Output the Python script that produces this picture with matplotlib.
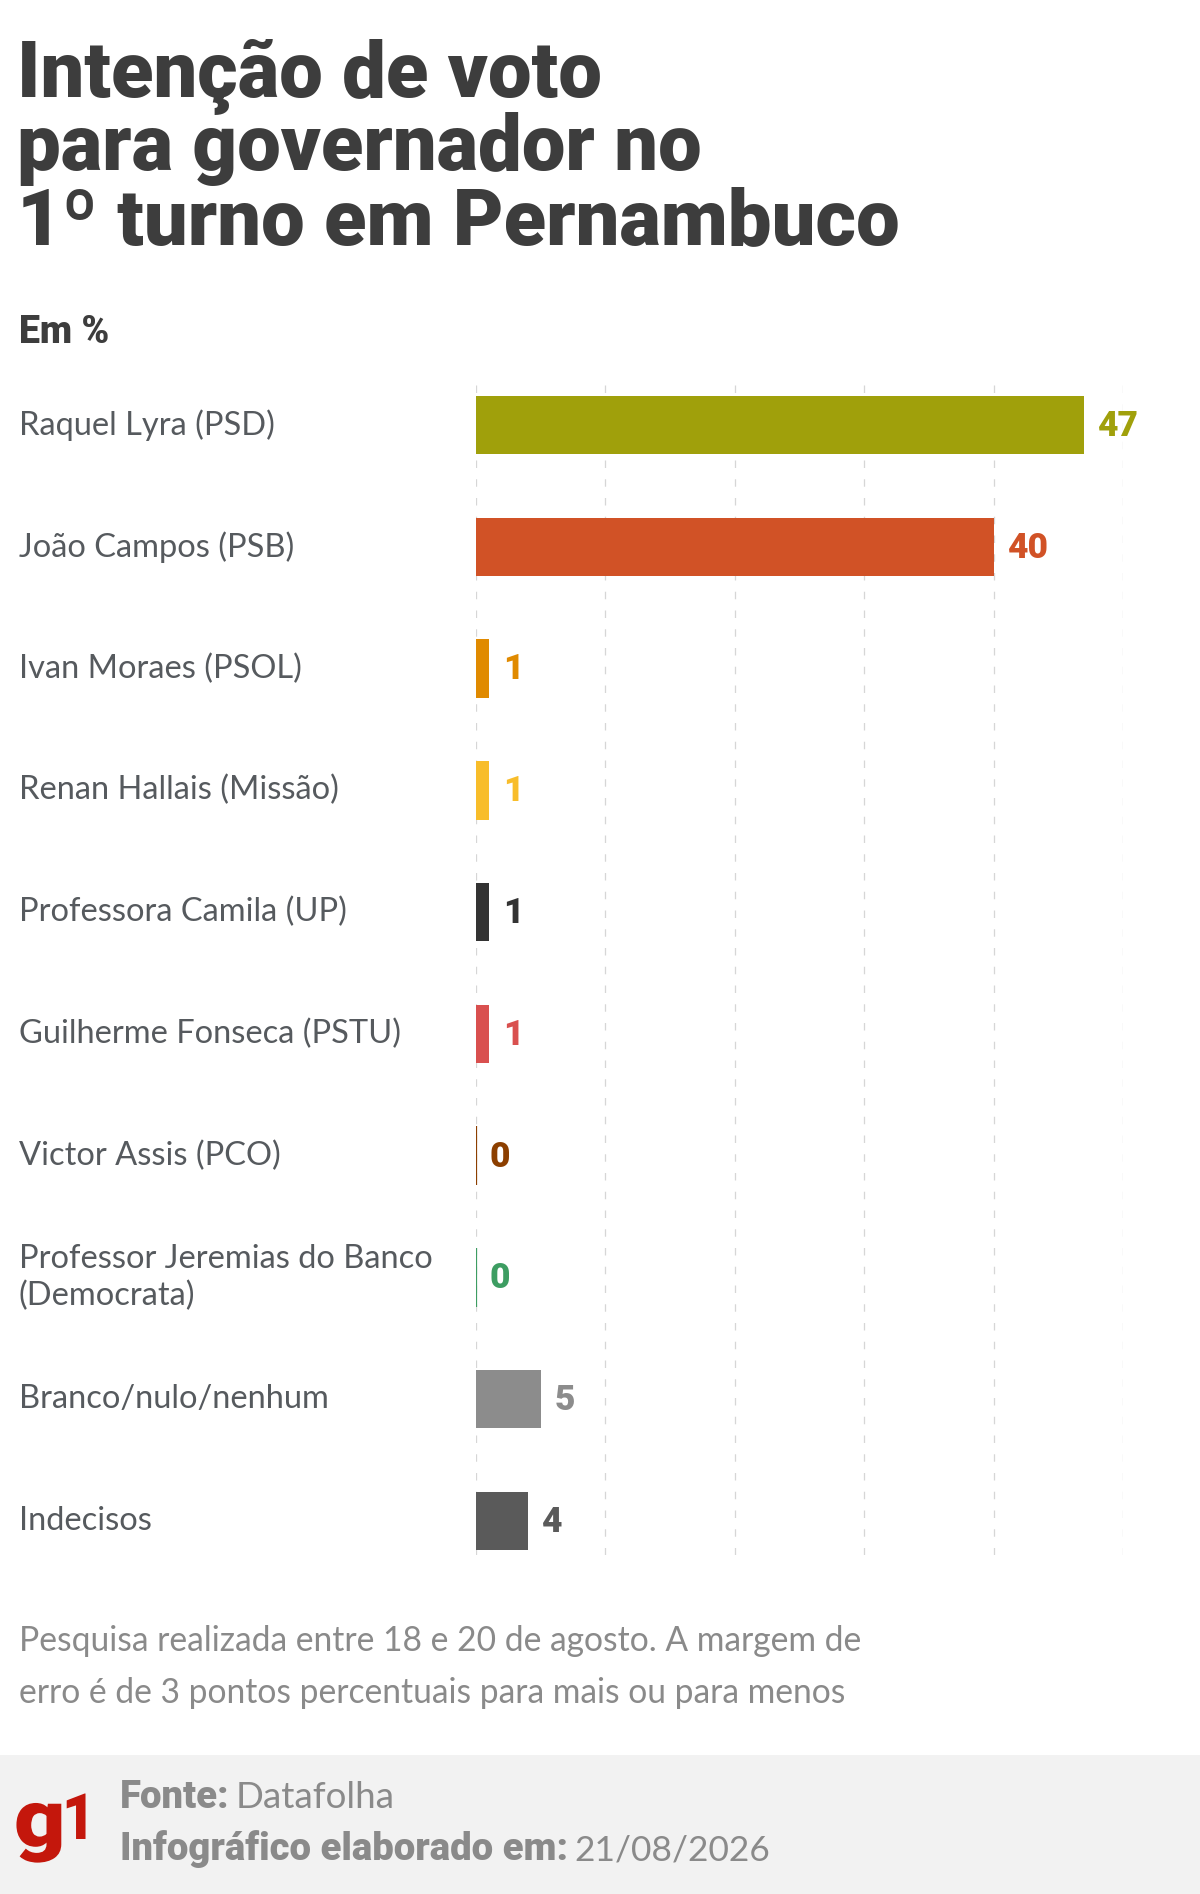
import matplotlib
matplotlib.use("Agg")
import matplotlib.pyplot as plt
import matplotlib.transforms as mtransforms
from matplotlib.patches import Rectangle, PathPatch
from matplotlib.textpath import TextPath
from matplotlib.font_manager import FontProperties

# dados
candidatos = [
    "Raquel Lyra (PSD)",
    "João Campos (PSB)",
    "Ivan Moraes (PSOL)",
    "Renan Hallais (Missão)",
    "Professora Camila (UP)",
    "Guilherme Fonseca (PSTU)",
    "Victor Assis (PCO)",
    "Professor Jeremias do Banco\n(Democrata)",
    "Branco/nulo/nenhum",
    "Indecisos",
]
votos = [47, 40, 1, 1, 1, 1, 0, 0, 5, 4]
cores = ["#a0a00b", "#d15226", "#e08a00", "#f8bd2a", "#333333",
         "#d9504f", "#8c3f00", "#3d9d62", "#8c8c8c", "#5a5a5a"]
grade = [0, 10, 20, 30, 40, 50]

titulo = ["Intenção de voto", "para governador no", "1º turno em Pernambuco"]
nota = ["Pesquisa realizada entre 18 e 20 de agosto. A margem de",
        "erro é de 3 pontos percentuais para mais ou para menos"]

W, H = 1200, 1894
fig = plt.figure(figsize=(W / 100, H / 100), dpi=100)
fig.patch.set_facecolor("white")


def fy(py):
    # pixel (de cima) -> fracao da figura
    return 1 - py / H


def fx(px):
    return px / W


TXT = "#565a5e"
FONT = "Lato"
TFONT = "Roboto"

# titulo
for i, linha in enumerate(titulo):
    fig.text(fx(17), fy(97 + i * 73.5), linha, fontsize=56, fontweight=900,
             family=TFONT, color="#3d3d3d", va="baseline")

fig.text(fx(19), fy(343), "Em %", fontsize=27, fontweight=900,
         family=TFONT, color="#3d3d3d", va="baseline")

# faixa inferior (fundo)
fig.patches.append(Rectangle((0, 0), 1, fy(1755), transform=fig.transFigure,
                             facecolor="#f2f2f2", edgecolor="none", zorder=-5))

# eixo das barras
y_top, y_bot = 384, 1555
ax = fig.add_axes([fx(476), fy(y_bot), fx(1123) - fx(476), (y_bot - y_top) / H])
n = len(votos)
pitch = (1521 - 425) / (n - 1)
ax.set_ylim(n - 1 + (y_bot - 1521) / pitch, -(425 - y_top) / pitch)
ax.set_xlim(0, 50)

larg = [1.6 if v == 0 else 0 for v in votos]
ax.barh(range(n), votos, height=0.48, color=cores, edgecolor=cores,
        linewidth=larg, zorder=3)

for x in grade:
    ax.axvline(x, color="#d6d6d6", linewidth=0.9, linestyle=(0, (6, 9)), zorder=1)

for i, (v, c) in enumerate(zip(votos, cores)):
    ax.annotate(str(v), xy=(v, i), xytext=(10, -1), textcoords="offset points",
                va="center", ha="left", fontsize=25.5, fontweight=900,
                family=TFONT, color=c, annotation_clip=False)

trans = mtransforms.blended_transform_factory(fig.transFigure, ax.transData)
for i, nome in enumerate(candidatos):
    ax.text(fx(19), i, nome, transform=trans, va="center", ha="left",
            fontsize=23.5, family=FONT, color=TXT, linespacing=1.3)

ax.axis("off")

# nota de rodape
for i, linha in enumerate(nota):
    fig.text(fx(19), fy(1651 + i * 52), linha, fontsize=24.2, family=FONT,
             color="#8a8a8a", va="baseline")

# logo g1 (em pixels)
fp = FontProperties(family=TFONT, weight=900)
g = TextPath((0, 0), "g", size=80, prop=fp)
um = TextPath((0, 0), "1", size=64, prop=fp)
fig.patches.append(PathPatch(g, transform=mtransforms.Affine2D().scale(1.12, 1.0).translate(14, H - 1846),
                             facecolor="#c4170c", edgecolor="none"))
fig.patches.append(PathPatch(um, transform=mtransforms.Affine2D().scale(0.9, 1.0).translate(62, H - 1839),
                             facecolor="#c4170c", edgecolor="none"))

fig.canvas.draw()
rend = fig.canvas.get_renderer()
t1 = fig.text(fx(120), fy(1808), "Fonte:", fontsize=27.5, fontweight=900,
              family=TFONT, color="#8a8a8a", va="baseline")
x1 = t1.get_window_extent(rend).x1
fig.text((x1 + 6) / W, fy(1808), "Datafolha", fontsize=26.5,
         family=FONT, color="#8a8a8a", va="baseline")
t2 = fig.text(fx(120), fy(1860), "Infográfico elaborado em:", fontsize=27.5,
              fontweight=900, family=TFONT, color="#8a8a8a", va="baseline")
x2 = t2.get_window_extent(rend).x1
fig.text((x2 + 6) / W, fy(1860), "21/08/2026", fontsize=25.5,
         family=FONT, color="#8a8a8a", va="baseline")

fig.savefig("out.png", dpi=100, facecolor="white")
